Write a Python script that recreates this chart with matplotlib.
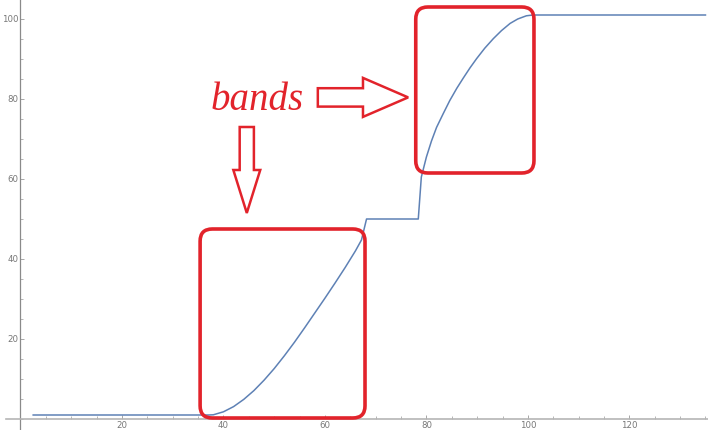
import matplotlib
matplotlib.use("Agg")
import matplotlib.pyplot as plt
import matplotlib.patches as patches
from matplotlib.ticker import MultipleLocator

# Cumulative curve: flat start, first band, plateau at 50, second band, top plateau
x_vals = [2.5, 37.0, 38.0, 40.0, 42.0, 44.0, 46.0, 48.0, 50.0, 52.0, 54.0,
          56.0, 58.0, 60.0, 62.0, 64.0, 66.0, 67.2, 68.2,
          78.4, 79.0, 80.0, 81.0, 82.0, 83.3, 84.6, 86.0, 87.3, 88.6, 89.9,
          91.5, 93.2, 94.8, 96.5, 98.0, 99.7, 101.0, 135.0]
y_vals = [1.0, 1.0, 1.05, 1.8, 3.1, 4.9, 7.1, 9.7, 12.6, 15.8, 19.2,
          22.8, 26.5, 30.2, 34.0, 37.9, 42.0, 44.75, 50.0,
          50.0, 60.5, 65.5, 69.5, 72.9, 76.3, 79.6, 82.7, 85.3, 87.8, 90.1,
          92.7, 95.1, 97.1, 98.9, 100.0, 100.8, 101.0, 101.0]

x_major = [20, 40, 60, 80, 100, 120]
y_major = [20, 40, 60, 80, 100]

# highlighted bands: (x0, x1, y0, y1)
band_boxes = [(35.4, 67.9, 0.25, 47.5), (77.9, 101.2, 61.5, 103.0)]

LINE_BLUE = "#5E81B5"
RED = "#E2232B"

fig = plt.figure(figsize=(7.08, 4.30), dpi=100)
ax = fig.add_axes([0, 0, 1, 1])
ax.set_xlim(-4.04, 135.5)
ax.set_ylim(-2.75, 104.75)

ax.plot(x_vals, y_vals, color=LINE_BLUE, lw=1.1, solid_joinstyle="round")

# axes crossing at the origin
for side in ("top", "right"):
    ax.spines[side].set_visible(False)
ax.spines["left"].set_position(("data", 0))
ax.spines["bottom"].set_position(("data", 0))
ax.spines["bottom"].set_bounds(-2.8, 135.5)
ax.spines["left"].set_color("#8a8a8a")
ax.spines["bottom"].set_color("#b5b5b5")
ax.spines["left"].set_linewidth(0.9)
ax.spines["bottom"].set_linewidth(1.2)

ax.set_xticks(x_major)
ax.set_yticks(y_major)
ax.xaxis.set_minor_locator(MultipleLocator(5))
ax.yaxis.set_minor_locator(MultipleLocator(5))
ax.tick_params(which="major", length=3, width=0.6, color="#999999",
               labelsize=6.2, labelcolor="#777777", direction="in", pad=1.5)
ax.tick_params(which="minor", length=2, width=0.5, color="#999999",
               direction="in")

# rounded red boxes around the bands
aspect = 5.075 / 4.0
for x0, x1, y0, y1 in band_boxes:
    box = patches.FancyBboxPatch((x0, y0), x1 - x0, y1 - y0,
                                 boxstyle="round,pad=0,rounding_size=2.4",
                                 mutation_aspect=aspect,
                                 fc="none", ec=RED, lw=2.6, zorder=3)
    ax.add_patch(box)

# block arrows pointing at the bands
right_arrow = patches.FancyArrow(58.6, 80.4, 17.8, 0, width=4.6,
                                 head_width=9.75, head_length=8.9,
                                 length_includes_head=True,
                                 fc="white", ec=RED, lw=1.8, zorder=3)
down_arrow = patches.FancyArrow(44.6, 73.0, 0, -21.5, width=2.8,
                                head_width=5.3, head_length=10.75,
                                length_includes_head=True,
                                fc="white", ec=RED, lw=1.8, zorder=3)
ax.add_patch(right_arrow)
ax.add_patch(down_arrow)

ax.text(46.6, 77.25, "bands", color=RED, fontsize=28, style="italic",
        family="Liberation Serif", ha="center", va="baseline")

fig.savefig("out.png", dpi=100, facecolor="white")
